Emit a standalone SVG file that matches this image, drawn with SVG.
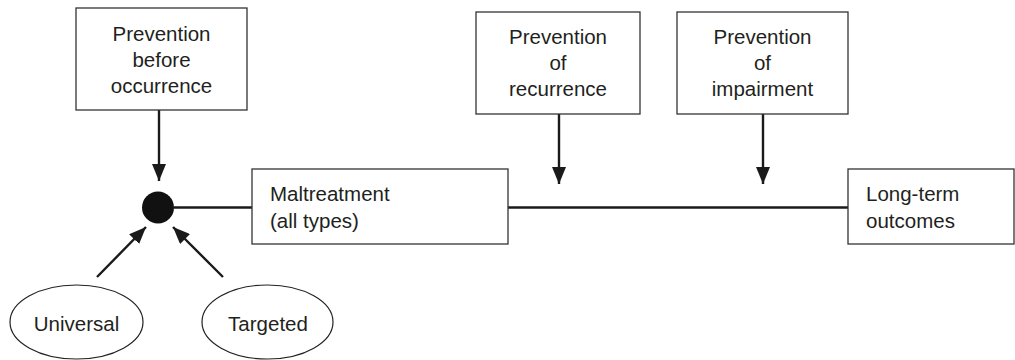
<svg xmlns="http://www.w3.org/2000/svg" width="1015" height="360" viewBox="0 0 1015 360">
<style>
.box{fill:#fff;stroke:#333;stroke-width:1.3}
.ell{fill:#fff;stroke:#222;stroke-width:1.2}
.t{font-family:"Liberation Sans",Arial,sans-serif;font-size:20.5px;fill:#231f20}
.c{text-anchor:middle}
.ln{stroke:#1a1a1a;stroke-width:2.4;fill:none}
</style>
<defs>
<marker id="ah" markerUnits="userSpaceOnUse" markerWidth="18" markerHeight="14" refX="17" refY="7" orient="auto">
<path d="M0,0 L17,7 L0,14 z" fill="#1a1a1a"/>
</marker>
</defs>
<rect width="1015" height="360" fill="#fff"/>
<g id="connectors">
<line class="ln" x1="159" y1="110" x2="159" y2="181" marker-end="url(#ah)"/>
<line class="ln" x1="559" y1="114" x2="559" y2="184" marker-end="url(#ah)"/>
<line class="ln" x1="763" y1="114" x2="763" y2="184" marker-end="url(#ah)"/>
<line class="ln" x1="97" y1="277" x2="146" y2="227" marker-end="url(#ah)"/>
<line class="ln" x1="223" y1="277" x2="173" y2="227" marker-end="url(#ah)"/>
<line class="ln" x1="174" y1="207.5" x2="252" y2="207.5"/>
<line class="ln" x1="508" y1="207.5" x2="848" y2="207.5"/>
</g>
<g id="node-before">
<rect class="box" x="76" y="8" width="171" height="102"/>
<text class="t c" x="161.5" y="41">Prevention</text>
<text class="t c" x="161.5" y="67">before</text>
<text class="t c" x="161.5" y="93">occurrence</text>
</g>
<g id="node-recurrence">
<rect class="box" x="476" y="12" width="164" height="102"/>
<text class="t c" x="558" y="44">Prevention</text>
<text class="t c" x="558" y="70">of</text>
<text class="t c" x="558" y="96">recurrence</text>
</g>
<g id="node-impairment">
<rect class="box" x="677" y="12" width="171" height="102"/>
<text class="t c" x="762.5" y="44">Prevention</text>
<text class="t c" x="762.5" y="70">of</text>
<text class="t c" x="762.5" y="96">impairment</text>
</g>
<g id="node-dot">
<circle cx="158" cy="207.5" r="16" fill="#111"/>
</g>
<g id="node-maltreatment">
<rect class="box" x="252" y="169" width="256" height="75"/>
<text class="t" x="270" y="201">Maltreatment</text>
<text class="t" x="270" y="228">(all types)</text>
</g>
<g id="node-outcomes">
<rect class="box" x="848" y="169" width="166" height="75"/>
<text class="t" x="866" y="201">Long-term</text>
<text class="t" x="866" y="228">outcomes</text>
</g>
<g id="node-universal">
<ellipse class="ell" cx="76.5" cy="322" rx="66.5" ry="37"/>
<text class="t c" x="76.5" y="331">Universal</text>
</g>
<g id="node-targeted">
<ellipse class="ell" cx="267.5" cy="322" rx="65.5" ry="37"/>
<text class="t c" x="268" y="331">Targeted</text>
</g>
</svg>
